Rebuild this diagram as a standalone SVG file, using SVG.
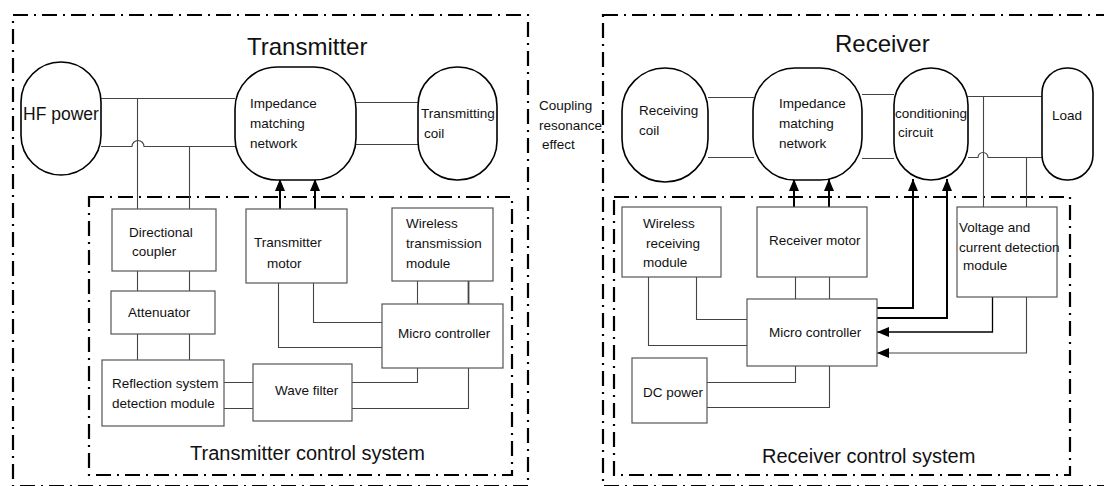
<svg xmlns="http://www.w3.org/2000/svg" width="1104" height="486" viewBox="0 0 1104 486">
<style>
text{font-family:"Liberation Sans",Arial,sans-serif;fill:#111;font-size:13.5px}
.big{font-size:24px}
.sys{font-size:20px}
.hf{font-size:17.5px}
.frame{fill:none;stroke:#000;stroke-width:2.2;stroke-dasharray:15 6 2 6}
.oval{fill:#fff;stroke:#000;stroke-width:1.6}
.box{fill:#fff;stroke:#555;stroke-width:1.2}
.c{fill:none;stroke:#444;stroke-width:1.1}
.ck{fill:none;stroke:#000;stroke-width:2}
</style>
<defs>
<marker id="ah" viewBox="0 0 12 10" refX="12" refY="5" markerWidth="12" markerHeight="10" markerUnits="userSpaceOnUse" orient="auto">
<path d="M0,0 L12,5 L0,10 z" fill="#000"/>
</marker>
</defs>
<rect width="1104" height="486" fill="#fff"/>

<g id="frames">
<rect class="frame" x="13" y="15" width="515" height="471"/>
<rect class="frame" x="89" y="197" width="423" height="278"/>
<rect class="frame" x="603" y="15" width="512" height="471"/>
<rect class="frame" x="614" y="197" width="456" height="278"/>
</g>

<g id="connectors">
<!-- transmitter -->
<path class="c" d="M101,98.5 H235"/>
<path class="c" d="M101,146.5 H132 A6,6 0 0 1 144,146.5 H235"/>
<path class="c" d="M137.5,98.5 V209"/>
<path class="c" d="M189.5,146.5 V209"/>
<path class="c" d="M137.5,271 V291 M189.5,271 V291"/>
<path class="c" d="M137.5,334 V360 M189.5,334 V360"/>
<path class="c" d="M224,382.5 H253 M224,408.5 H253"/>
<path class="c" d="M352,382.5 H417.5 V368"/>
<path class="c" d="M352,408.5 H468.5 V368"/>
<path class="c" d="M278.5,283 V347.5 H382"/>
<path class="c" d="M313.5,283 V322.5 H382"/>
<path class="c" d="M417.5,281 V304"/>
<path class="c" d="M468.5,281 V304" style="stroke-width:1.8"/>
<path class="c" d="M356,102.5 H418 M356,144.5 H418"/>
<path class="ck" d="M280,209 V179" marker-end="url(#ah)"/>
<path class="ck" d="M315,209 V179" marker-end="url(#ah)"/>
<!-- receiver -->
<path class="c" d="M708,97.5 H754 M708,157.5 H754"/>
<path class="c" d="M862,94.5 H894 M862,158.5 H894"/>
<path class="c" d="M968,96.5 H1042"/>
<path class="c" d="M968,157.5 H978 A5,5 0 0 1 988,157.5 H1042"/>
<path class="c" d="M983.5,96.5 V207"/>
<path class="c" d="M1026.5,157.5 V207"/>
<path class="ck" d="M794,207 V179" marker-end="url(#ah)"/>
<path class="ck" d="M829,207 V179" marker-end="url(#ah)"/>
<path class="c" d="M795.5,277 V299 M829.5,277 V299"/>
<path class="c" d="M648.5,277 V345.5 H747"/>
<path class="c" d="M696.5,277 V319.5 H747"/>
<path class="c" d="M707,382.5 H795.5 V366"/>
<path class="c" d="M707,407.5 H829.5 V366"/>
<path class="ck" d="M877,308 H913 V179" marker-end="url(#ah)"/>
<path class="ck" d="M877,318 H947 V179" marker-end="url(#ah)"/>
<path class="c" d="M992.5,297 V332 H877" style="stroke:#000;stroke-width:1.3" marker-end="url(#ah)"/>
<path class="c" d="M1026.5,297 V353 H877" marker-end="url(#ah)"/>
</g>

<g id="titles">
<text class="big" x="247" y="55">Transmitter</text>
<text class="big" x="835" y="52">Receiver</text>
<text class="sys" x="190" y="460">Transmitter control system</text>
<text class="sys" x="762" y="463">Receiver control system</text>
</g>

<g id="coupling">
<text x="539" y="110">Coupling</text>
<text x="539" y="130">resonance</text>
<text x="542" y="149">effect</text>
</g>

<g id="hf-power">
<rect class="oval" x="21" y="62" width="80" height="113" rx="40" ry="40"/>
<text class="hf" x="23" y="120">HF power</text>
</g>
<g id="tx-impedance">
<rect class="oval" x="235" y="67" width="121" height="113" rx="42" ry="42"/>
<text x="250" y="108">Impedance</text>
<text x="250" y="128">matching</text>
<text x="250" y="148">network</text>
</g>
<g id="tx-coil">
<rect class="oval" x="418" y="67" width="79" height="113" rx="39" ry="39"/>
<text x="421" y="118">Transmitting</text>
<text x="424" y="138">coil</text>
</g>
<g id="directional-coupler">
<rect class="box" x="112" y="209" width="104" height="62"/>
<text x="129" y="237">Directional</text>
<text x="132" y="256">coupler</text>
</g>
<g id="attenuator">
<rect class="box" x="111" y="291" width="104" height="43"/>
<text x="128" y="317">Attenuator</text>
</g>
<g id="reflection">
<rect class="box" x="102" y="360" width="122" height="66"/>
<text x="112" y="388">Reflection system</text>
<text x="112" y="408">detection module</text>
</g>
<g id="wave-filter">
<rect class="box" x="253" y="364" width="99" height="57"/>
<text x="275" y="395">Wave filter</text>
</g>
<g id="tx-motor">
<rect class="box" x="246" y="209" width="101" height="74"/>
<text x="254" y="247">Transmitter</text>
<text x="267" y="268">motor</text>
</g>
<g id="wireless-tx">
<rect class="box" x="392" y="208" width="101" height="73"/>
<text x="406" y="228">Wireless</text>
<text x="406" y="248">transmission</text>
<text x="406" y="268">module</text>
</g>
<g id="tx-micro">
<rect class="box" x="382" y="304" width="121" height="64"/>
<text x="398" y="338">Micro controller</text>
</g>

<g id="rx-coil">
<rect class="oval" x="622" y="68" width="86" height="114" rx="43" ry="43"/>
<text x="639" y="115">Receiving</text>
<text x="639" y="135">coil</text>
</g>
<g id="rx-impedance">
<rect class="oval" x="753" y="68" width="109" height="112" rx="42" ry="42"/>
<text x="779" y="108">Impedance</text>
<text x="779" y="128">matching</text>
<text x="779" y="148">network</text>
</g>
<g id="conditioning">
<rect class="oval" x="894" y="68" width="74" height="112" rx="37" ry="37"/>
<text x="895" y="118">conditioning</text>
<text x="898" y="137">circuit</text>
</g>
<g id="load">
<rect class="oval" x="1042" y="68" width="51" height="112" rx="25" ry="25"/>
<text x="1052" y="120">Load</text>
</g>
<g id="wireless-rx">
<rect class="box" x="622" y="207" width="99" height="70"/>
<text x="643" y="228">Wireless</text>
<text x="646" y="248">receiving</text>
<text x="643" y="267">module</text>
</g>
<g id="rx-motor">
<rect class="box" x="757" y="207" width="110" height="70"/>
<text x="769" y="245">Receiver motor</text>
</g>
<g id="rx-micro">
<rect class="box" x="747" y="299" width="130" height="67"/>
<text x="769" y="337">Micro controller</text>
</g>
<g id="dc-power">
<rect class="box" x="632" y="358" width="75" height="65"/>
<text x="643" y="397">DC power</text>
</g>
<g id="voltage-detect">
<rect class="box" x="957" y="207" width="100" height="90"/>
<text x="959" y="232">Voltage and</text>
<text x="959" y="252">current detection</text>
<text x="963" y="270">module</text>
</g>
</svg>
